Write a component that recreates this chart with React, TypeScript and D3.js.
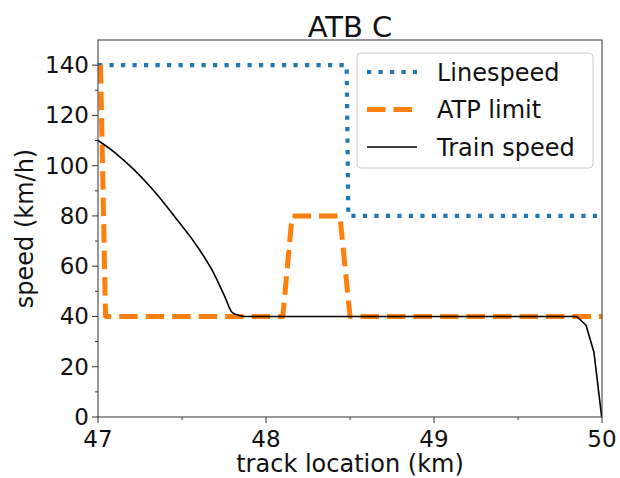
import React from 'react';
import * as d3 from 'd3';

const title = 'ATB C';
const xLabel = 'track location (km)';
const yLabel = 'speed (km/h)';
const xTicks = [47, 48, 49, 50];
const xMinorTicks = [47.5, 48.5, 49.5];
const yTicks = [0, 20, 40, 60, 80, 100, 120, 140];
const yMinorTicks = [10, 30, 50, 70, 90, 110, 130];

const linespeedX = [47, 48.48, 48.49, 50];
const linespeedY = [140, 140, 80, 80];

const atpX = [47.015, 47.045, 48.1, 48.155, 48.44, 48.5, 50];
const atpY = [140, 40, 40, 80, 80, 40, 40];

const trainX = [47.0, 47.1, 47.22, 47.34, 47.46, 47.58, 47.68, 47.756, 47.796, 47.835, 47.875, 49.85, 49.905, 49.952, 49.998];
const trainY = [110, 105.2, 98, 89.4, 79.4, 68.9, 58.3, 47.7, 41.8, 40.5, 40, 40, 36.5, 25.8, 0];
// index where the smooth braking curve ends and the straight part begins
const trainBrakeEnd = 10;

const legendLabels = ['Linespeed', 'ATP limit', 'Train speed'];

const W = 620, H = 478;
const L = 98, R = 602, T = 40, B = 417;
const FONT = 'DejaVu Sans, sans-serif';

const styles = [
  { stroke: '#1f77b4', width: 4.2, dash: '4.2 7.3' },
  { stroke: '#ff7f0e', width: 5, dash: '18.5 8' },
  { stroke: '#000000', width: 1.6, dash: undefined as string | undefined },
];

export default function App() {
  const x = d3.scaleLinear().domain([47, 50]).range([L, R]);
  const y = d3.scaleLinear().domain([0, 150]).range([B, T]);
  const line = d3.line<[number, number]>().x(d => x(d[0])).y(d => y(d[1]));
  const smooth = d3.line<[number, number]>().x(d => x(d[0])).y(d => y(d[1])).curve(d3.curveMonotoneX);
  const zip = (a: number[], b: number[]) => a.map((v, i) => [v, b[i]] as [number, number]);
  const train = zip(trainX, trainY);
  const trainPath = (smooth(train.slice(0, trainBrakeEnd + 1)) || '') + (line(train.slice(trainBrakeEnd)) || '').replace(/^M/, 'L');
  const paths = [line(zip(linespeedX, linespeedY)) || '', line(zip(atpX, atpY)) || '', trainPath];

  return (
    <svg width={W} height={H} style={{ position: 'absolute', left: 0, top: 0, background: '#fff' }} fontFamily={FONT}>
      <defs>
        <clipPath id="plotclip">
          <rect x={L} y={T} width={R - L} height={B - T} />
        </clipPath>
      </defs>
      <rect x={0} y={0} width={W} height={H} fill="#fff" />
      <text x={(L + R) / 2} y={37} textAnchor="middle" fontSize={29} fill="#111">{title}</text>
      <g clipPath="url(#plotclip)">
        {paths.map((p, i) => (
          <path key={i} d={p} fill="none" stroke={styles[i].stroke} strokeWidth={styles[i].width}
            strokeDasharray={styles[i].dash} strokeLinejoin="round" />
        ))}
      </g>
      {/* spines */}
      <rect x={L} y={T} width={R - L} height={B - T} fill="none" stroke="#333" strokeWidth={1} />
      {/* x ticks */}
      {xTicks.map(t => (
        <g key={'x' + t}>
          <line x1={x(t)} x2={x(t)} y1={B} y2={B + 6} stroke="#333" />
          <text x={x(t)} y={447} textAnchor="middle" fontSize={23} fill="#111">{t}</text>
        </g>
      ))}
      {xMinorTicks.map(t => (
        <line key={'xm' + t} x1={x(t)} x2={x(t)} y1={B} y2={B + 3} stroke="#333" />
      ))}
      {yTicks.map(t => (
        <g key={'y' + t}>
          <line x1={L - 6} x2={L} y1={y(t)} y2={y(t)} stroke="#333" />
          <text x={L - 9} y={y(t) + 8} textAnchor="end" fontSize={23} fill="#111">{t}</text>
        </g>
      ))}
      {yMinorTicks.map(t => (
        <line key={'ym' + t} x1={L - 3} x2={L} y1={y(t)} y2={y(t)} stroke="#333" />
      ))}
      <text x={(L + R) / 2} y={472} textAnchor="middle" fontSize={24} fill="#111">{xLabel}</text>
      <text transform={`translate(33, ${(T + B) / 2}) rotate(-90)`} textAnchor="middle" fontSize={24} fill="#111">{yLabel}</text>
      {/* legend */}
      <rect x={357} y={53} width={236} height={115} rx={4} fill="#fff" fillOpacity={0.8} stroke="#ccc" strokeWidth={1} />
      {legendLabels.map((lab, i) => {
        const cy = 72 + i * 37.5;
        return (
          <g key={lab}>
            <line x1={367} x2={417} y1={cy} y2={cy} stroke={styles[i].stroke} strokeWidth={styles[i].width}
              strokeDasharray={styles[i].dash} />
            <text x={437} y={cy + 8.5} fontSize={24} fill="#111">{lab}</text>
          </g>
        );
      })}
    </svg>
  );
}
